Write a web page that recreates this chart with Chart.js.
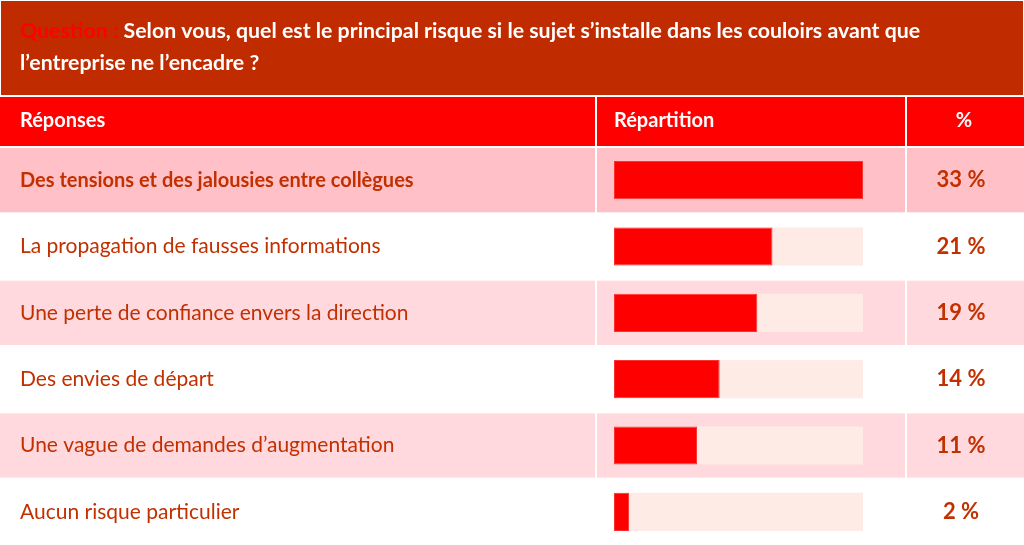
<!DOCTYPE html>
<html>
<head>
<meta charset="utf-8">
<script src="https://cdn.jsdelivr.net/npm/chart.js@4"></script>
<style>
  html, body { margin: 0; padding: 0; background: #fff; }
  #wrap { width: 1024px; height: 545px; }
</style>
</head>
<body>
<div id="wrap"><canvas id="barChart"></canvas></div>
<script>
const questionLabel = 'Question :';
const questionLines = [
  ' Selon vous, quel est le principal risque si le sujet s\u2019installe dans les couloirs avant que',
  'l\u2019entreprise ne l\u2019encadre ?'
];
const headers = ['Réponses', 'Répartition', '%'];
const answers = [
  'Des tensions et des jalousies entre collègues',
  'La propagation de fausses informations',
  'Une perte de confiance envers la direction',
  'Des envies de départ',
  'Une vague de demandes d\u2019augmentation',
  'Aucun risque particulier'
];
const shares = [33, 21, 19, 14, 11, 2];
const scaleMax = 33;

const FONT = 'Lato, "Open Sans", sans-serif';
const darkRed = '#c12b00';
const textRed = '#c23000';

const tablePlugin = {
  id: 'tablePlugin',
  beforeDraw(chart) {
    const ctx = chart.ctx;
    const y = chart.scales.y;
    const x = chart.scales.x;
    const W = chart.width;
    ctx.save();
    ctx.fillStyle = '#fff';
    ctx.fillRect(0, 0, W, chart.height);

    // question band
    ctx.fillStyle = darkRed;
    ctx.fillRect(1, 1, W - 2, 94);

    // header row
    ctx.fillStyle = '#ff0000';
    ctx.fillRect(0, 97, W, 49);

    // row bands
    const step = (y.bottom - y.top) / answers.length;
    answers.forEach((a, i) => {
      const top = y.getPixelForValue(i) - step / 2;
      let col = null;
      if (i === 0) col = '#ffc1c7';
      else if (i % 2 === 0) col = '#ffd9de';
      if (col) {
        ctx.fillStyle = col;
        ctx.fillRect(0, top + 1, W, step - 2);
      }
    });

    // column dividers
    ctx.fillStyle = '#fff';
    ctx.fillRect(595, 96, 2, chart.height - 96);
    ctx.fillRect(905, 96, 2, chart.height - 96);

    // bar tracks
    ctx.fillStyle = '#ffebe6';
    const x0 = x.getPixelForValue(0);
    const x1 = x.getPixelForValue(scaleMax);
    const h = step * 0.575;
    answers.forEach((a, i) => {
      ctx.fillRect(x0, y.getPixelForValue(i) - h / 2, x1 - x0, h);
    });

    // question text
    ctx.textBaseline = 'middle';
    ctx.textAlign = 'left';
    ctx.font = 'bold 21.3px ' + FONT;
    ctx.fillStyle = '#ff0000';
    ctx.fillText(questionLabel, 20, 31);
    const qw = ctx.measureText(questionLabel).width;
    ctx.fillStyle = '#fff';
    ctx.fillText(questionLines[0], 20 + qw, 31);
    ctx.fillText(questionLines[1], 20, 63);

    // header text
    ctx.font = 'bold 20px ' + FONT;
    ctx.fillText(headers[0], 20, 121);
    ctx.fillText(headers[1], 614, 121);
    ctx.textAlign = 'center';
    ctx.fillText(headers[2], 964, 121);
    ctx.restore();
  },
  afterDatasetsDraw(chart) {
    const ctx = chart.ctx;
    const y = chart.scales.y;
    ctx.save();
    ctx.textBaseline = 'middle';
    answers.forEach((a, i) => {
      const cy = y.getPixelForValue(i);
      ctx.fillStyle = textRed;
      ctx.textAlign = 'left';
      ctx.font = i === 0 ? 'bold 20px ' + FONT : '21px ' + FONT;
      ctx.fillText(a, 20, cy);
      ctx.textAlign = 'center';
      ctx.font = 'bold 22px ' + FONT;
      ctx.fillText(shares[i] + ' %', 961, cy);
    });
    ctx.restore();
  }
};

new Chart(document.getElementById('barChart').getContext('2d'), {
  type: 'bar',
  data: {
    labels: answers,
    datasets: [{
      label: 'Répartition',
      data: shares,
      backgroundColor: '#ff0000',
      borderColor: '#ff3030',
      borderWidth: 1,
      borderSkipped: false,
      barPercentage: 0.575,
      categoryPercentage: 1
    }]
  },
  options: {
    indexAxis: 'y',
    responsive: true,
    maintainAspectRatio: false,
    animation: false,
    layout: { padding: { left: 614, right: 161, top: 147, bottom: 0 } },
    scales: {
      x: { display: false, min: 0, max: scaleMax },
      y: { display: false }
    },
    plugins: {
      legend: { display: false },
      tooltip: { enabled: false }
    }
  },
  plugins: [tablePlugin]
});
</script>
</body>
</html>
